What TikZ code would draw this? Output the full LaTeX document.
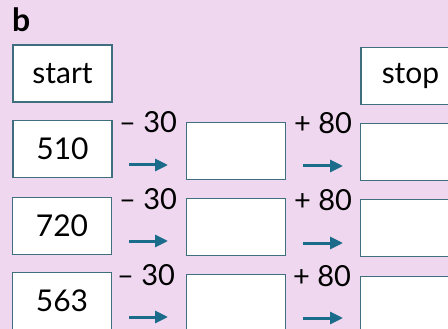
\documentclass[tikz,border=0pt]{standalone}
\usepackage{fontspec}
\setmainfont{Lato}
\usetikzlibrary{arrows.meta}
\definecolor{bgpink}{HTML}{EFD7EF}
\definecolor{boxline}{HTML}{3F6E7E}
\definecolor{arrowc}{HTML}{1A6C8A}
\tikzset{
  box/.style={draw=boxline, line width=1.5pt, fill=white, minimum width=99pt, minimum height=57pt, inner sep=0pt, font=\fontsize{30}{30}\selectfont},
  oplabel/.style={inner sep=0pt, font=\fontsize{29}{29}\selectfont, anchor=base},
  flow/.style={draw=arrowc, line width=3pt, -{Triangle[length=13pt,width=12pt]}}
}
\begin{document}
\begin{tikzpicture}[x=1pt,y=-1pt]
\useasboundingbox (0,0) rectangle (448,329);
\clip (0,0) rectangle (448,329);
\fill[bgpink] (0,0) rectangle (448,329);
\node[anchor=base west, inner sep=0pt, font=\fontsize{32}{32}\selectfont\bfseries] (b) at (12,32) {b};
\node[box] (start) at (62.5,73.5) {start};
\node[box] (stop) at (410.5,76) {stop};
% row 1
\node[box] (r1a) at (62.5,149) {510};
\node[box] (r1b) at (236,151) {};
\node[box] (r1c) at (410,152) {};
% row 2
\node[box] (r2a) at (62,226) {720};
\node[box] (r2b) at (236,227) {};
\node[box] (r2c) at (410,228) {};
% row 3
\node[box] (r3a) at (62,301) {563};
\node[box] (r3b) at (236,303) {};
\node[box] (r3c) at (410,305) {};
% labels
\node[oplabel] (l1a) at (148,133) {– 30};
\node[oplabel] (l1b) at (323,134) {+ 80};
\node[oplabel] (l2a) at (148,209) {– 30};
\node[oplabel] (l2b) at (323,211) {+ 80};
\node[oplabel] (l3a) at (146,285) {– 30};
\node[oplabel] (l3b) at (322,287) {+ 80};
% arrows
\coordinate (a1s) at (129,165); \coordinate (a1e) at (168,165);
\coordinate (b1s) at (303,166); \coordinate (b1e) at (343,166);
\coordinate (a2s) at (129,241); \coordinate (a2e) at (168,241);
\coordinate (b2s) at (303,243); \coordinate (b2e) at (343,243);
\coordinate (a3s) at (129,317); \coordinate (a3e) at (168,317);
\coordinate (b3s) at (303,318); \coordinate (b3e) at (343,318);
\draw[flow] (a1s) -- (a1e);
\draw[flow] (b1s) -- (b1e);
\draw[flow] (a2s) -- (a2e);
\draw[flow] (b2s) -- (b2e);
\draw[flow] (a3s) -- (a3e);
\draw[flow] (b3s) -- (b3e);
\end{tikzpicture}
\end{document}
